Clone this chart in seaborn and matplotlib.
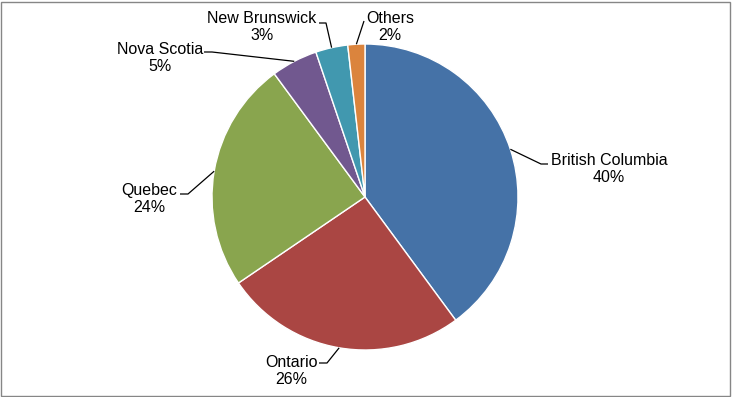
import numpy as np
import matplotlib
matplotlib.use("Agg")
import matplotlib.pyplot as plt
import seaborn as sns
from matplotlib.patches import Rectangle

# Data (share of total, %)
provinces = ["British Columbia", "Ontario", "Quebec", "Nova Scotia", "New Brunswick", "Others"]
shares = [39.9, 25.6, 24.4, 4.9, 3.4, 1.8]
slice_colors = ["#4572A7", "#AA4643", "#89A54E", "#71588F", "#4198AF", "#DB843D"]

sns.set_style("white")
plt.rcParams["font.family"] = ["Liberation Sans", "DejaVu Sans"]

W, H = 732, 397
CX, CY, R = 365, 197, 153  # pie centre / radius in pixels


def px(x, y):
    # pixel position -> data units (radius = 1)
    return (x - CX) / R, (CY - y) / R


fig = plt.figure(figsize=(W / 100, H / 100), dpi=100)
ax = fig.add_axes([0, 0, 1, 1])

wedges, _ = ax.pie(shares, colors=sns.color_palette(slice_colors), startangle=90,
                   counterclock=False, radius=1, center=(0, 0), frame=True,
                   wedgeprops=dict(edgecolor="white", linewidth=1))
ax.set_xlim(-CX / R, (W - CX) / R)
ax.set_ylim(-(H - CY) / R, CY / R)
ax.set_aspect("auto")
ax.axis("off")

# label layout: text centre, point where the leader meets the text, elbow
layout = {
    "British Columbia": ((609, 169), (548, 164), (541, 164)),
    "Ontario": ((291, 371), (319, 363), (327, 363)),
    "Quebec": ((149, 199), (180, 194), (188, 194)),
    "Nova Scotia": ((160, 58), (204, 52), (212, 52)),
    "New Brunswick": ((262, 27), (319, 23), (326, 23)),
    "Others": ((390, 27), (364, 21), (364, 21)),
}

for w, name, val in zip(wedges, provinces, shares):
    mid = np.deg2rad((w.theta1 + w.theta2) / 2)
    ex, ey = np.cos(mid), np.sin(mid)
    (tx, ty), attach, elbow = layout[name]
    ax_, ay_ = px(*attach)
    bx, by = px(*elbow)
    ax.plot([ex, bx, ax_], [ey, by, ay_], color="black", lw=0.9, solid_capstyle="butt")
    x, y = px(tx, ty)
    ax.text(x, y, f"{name}\n{round(val)}%", ha="center", va="center",
            fontsize=11.5, linespacing=1.2, color="black")

fig.patches.append(Rectangle((1 / W, 1 / H), (W - 3) / W, (H - 3) / H,
                             transform=fig.transFigure, fill=False,
                             edgecolor="#868686", linewidth=1))

fig.savefig("out.png", dpi=100)
